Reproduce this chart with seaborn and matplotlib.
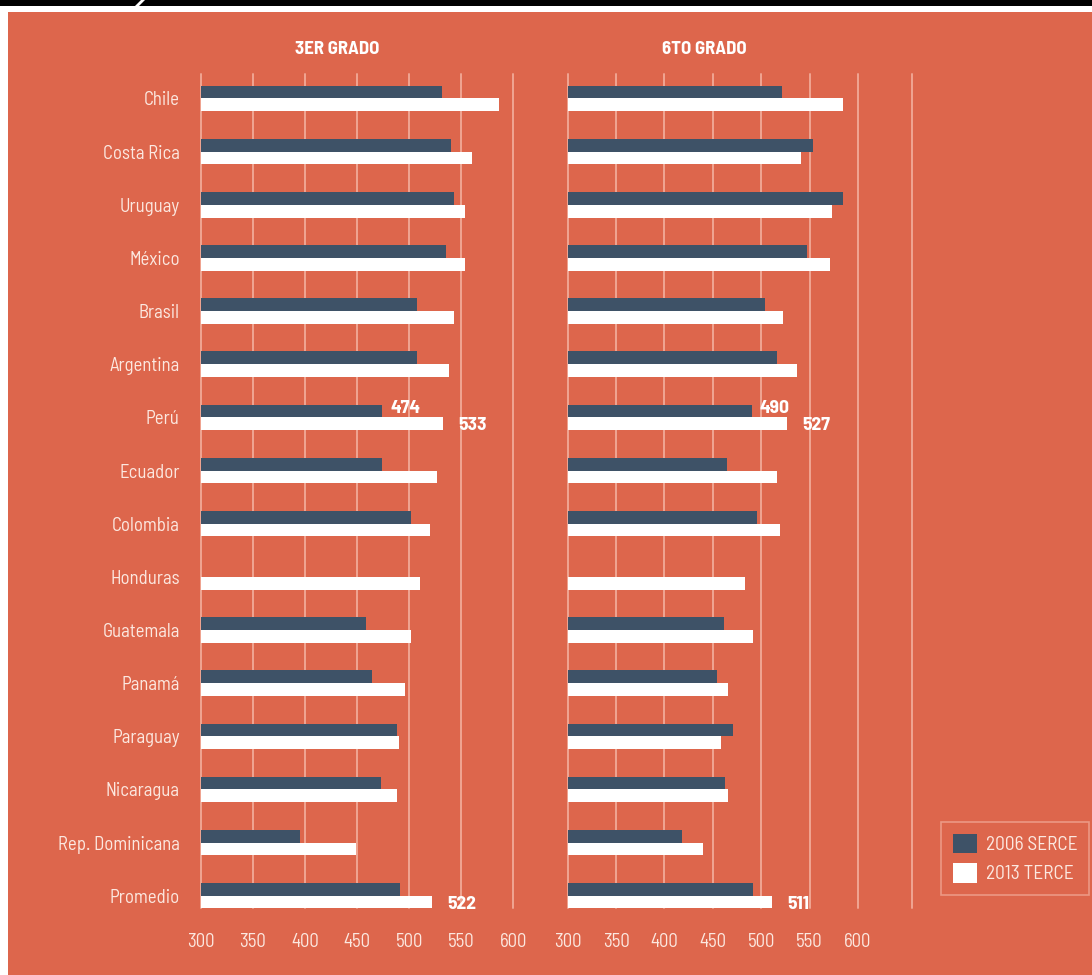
import numpy as np
import pandas as pd
import seaborn as sns
import matplotlib.pyplot as plt
from matplotlib.patches import Rectangle, Polygon
from matplotlib.lines import Line2D

# Scores by country: SERCE (2006) and TERCE (2013), 3rd and 6th grade
countries = ["Chile", "Costa Rica", "Uruguay", "México", "Brasil", "Argentina",
             "Perú", "Ecuador", "Colombia", "Honduras", "Guatemala", "Panamá",
             "Paraguay", "Nicaragua", "Rep. Dominicana", "Promedio"]
serce_3 = [532, 540, 543, 535, 508, 508, 474, 474, 502, np.nan, 459, 464, 488, 473, 395, 491]
terce_3 = [586, 560, 554, 554, 543, 538, 533, 527, 520, 510, 502, 496, 490, 488, 449, 522]
serce_6 = [521, 554, 584, 547, 504, 516, 490, 465, 496, np.nan, 462, 454, 471, 463, 418, 492]
terce_6 = [584, 541, 573, 571, 523, 537, 527, 516, 519, 483, 491, 466, 458, 466, 440, 511]
series = ["2006 SERCE", "2013 TERCE"]
panel_titles = ["3ER GRADO", "6TO GRADO"]
x_ticks = [300, 350, 400, 450, 500, 550, 600]
labelled = ["Perú", "Promedio"]

ORANGE = "#DD664C"
DARK = "#3E5267"
WHITE = "#FFFFFF"
PALE = "#FCE8E0"
GRID = "#F0A592"

W, H = 1092, 975
sns.set_theme(style="white")
plt.rcParams["font.family"] = ["Barlow Semi Condensed", "Barlow Condensed",
                               "Roboto Condensed", "DejaVu Sans"]

fig = plt.figure(figsize=(W / 100, H / 100), dpi=100, facecolor="white")


def fx(px):
    return px / W


def fy(py):
    return 1 - py / H


# page background and header strip
fig.add_artist(Rectangle((fx(8), 0), 1 - fx(8), fy(12), transform=fig.transFigure,
                         facecolor=ORANGE, edgecolor="none", zorder=-10))
fig.add_artist(Rectangle((0, fy(6)), 1, fy(0) - fy(6), transform=fig.transFigure,
                         facecolor="black", edgecolor="none", zorder=-9))
fig.add_artist(Polygon([(fx(135), fy(6)), (fx(139), fy(6)), (fx(145), fy(0)), (fx(141), fy(0))],
                       closed=True, transform=fig.transFigure, facecolor="white",
                       edgecolor="none", zorder=-8))


def make_frame(first, second):
    return pd.DataFrame({
        "pais": countries * 2,
        "serie": [series[0]] * len(countries) + [series[1]] * len(countries),
        "puntaje": list(first) + list(second),
    })


frames = [make_frame(serce_3, terce_3), make_frame(serce_6, terce_6)]
boxes = [(200.7, 513.3), (567.7, 858.0)]
top_px, bottom_px = 74, 908
title_x = [337, 704]

for k, (df, (x0, x1)) in enumerate(zip(frames, boxes)):
    ax = fig.add_axes([fx(x0), fy(bottom_px), fx(x1) - fx(x0), (bottom_px - top_px) / H])
    ax.set_facecolor("none")
    sns.barplot(data=df, x="puntaje", y="pais", hue="serie", hue_order=series,
                palette=[DARK, WHITE], orient="h", width=0.48, errorbar=None,
                saturation=1, linewidth=0, legend=False, ax=ax, zorder=3)
    ax.set_xlim(300, 600)
    ax.set_ylim(len(countries) - 1 + 0.23, -0.46)
    ax.set_xticks(x_ticks)
    ax.set_xticklabels([str(t) for t in x_ticks])
    ax.grid(False)
    for t in x_ticks:
        ax.axvline(t, color=GRID, lw=1.4, zorder=1, clip_on=False)
    for s in ax.spines.values():
        s.set_visible(False)
    ax.tick_params(axis="x", length=0, pad=18, labelsize=13.5, labelcolor=PALE)
    ax.tick_params(axis="y", length=0, pad=15, labelsize=13.5, labelcolor=PALE)
    ax.set_xlabel("")
    ax.set_ylabel("")
    if k == 1:
        ax.set_yticklabels([])

    # value labels for the highlighted rows
    for c_idx, cont in enumerate(ax.containers):
        for i, bar in enumerate(cont):
            if countries[i] not in labelled:
                continue
            val = bar.get_width()
            yc = bar.get_y() + bar.get_height() / 2
            dx, dy = (8, 3) if c_idx == 0 else (15, -2)
            ax.annotate(f"{val:.0f}", xy=(val, yc), xytext=(dx, dy),
                        textcoords="offset pixels", ha="left", va="center",
                        fontsize=14, fontweight="bold", color=WHITE, zorder=5)

    fig.text(fx(title_x[k]), fy(50), panel_titles[k], ha="center", va="center",
             fontsize=13.5, fontweight="bold", color=WHITE)

# closing rule on the right of the second panel
fig.add_artist(Line2D([fx(912), fx(912)], [fy(bottom_px), fy(top_px)],
                      transform=fig.transFigure, color=GRID, lw=1.4))

handles = [Rectangle((0, 0), 1, 1, facecolor=DARK, edgecolor="none"),
           Rectangle((0, 0), 1, 1, facecolor=WHITE, edgecolor="none")]
leg = fig.legend(handles, series, loc="upper left",
                 bbox_to_anchor=(fx(941), fy(822)), frameon=True, fancybox=False,
                 borderaxespad=0, borderpad=0.6, fontsize=14,
                 handlelength=1.24, handleheight=1.19, handletextpad=0.45,
                 labelspacing=0.45)
leg.get_frame().set_edgecolor(GRID)
leg.get_frame().set_facecolor("none")
leg.get_frame().set_linewidth(1.2)
for t in leg.get_texts():
    t.set_color(PALE)

fig.savefig("out.png", dpi=100, facecolor=fig.get_facecolor())
